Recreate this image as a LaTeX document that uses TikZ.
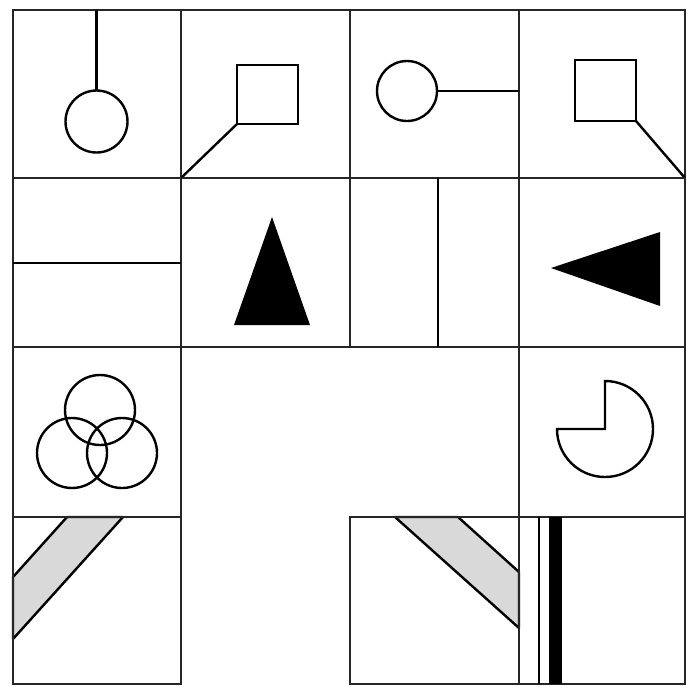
\documentclass[tikz,border=0pt]{standalone}
\usepackage{tikz}
\usetikzlibrary{positioning}
\definecolor{inkblack}{RGB}{0, 0, 0}
\definecolor{bandgray}{RGB}{217, 217, 217}

\begin{document}
\begin{tikzpicture}[
    x=1pt, y=-1pt,
    cell/.style={draw=inkblack!85, line width=2.6pt},
    figline/.style={draw=inkblack, line width=2.4pt},
    solidfig/.style={fill=inkblack},
    band/.style={fill=bandgray, draw=inkblack, line width=2.4pt, line join=round}
]
    \useasboundingbox (0,0) rectangle (687,686);

    % row 1
    \draw[cell] (13,10) rectangle (181,178);
    \draw[cell] (181,10) rectangle (350,178);
    \draw[cell] (350,10) rectangle (519,178);
    \draw[cell] (519,10) rectangle (685,178);
    \draw[figline] (96.5,10) -- (96.5,90.5);
    \draw[figline] (96.5,121.5) circle[radius=31];
    \draw[figline] (237,65) rectangle (298,124);
    \draw[figline] (237,124) -- (181,178);
    \draw[figline] (407,91) circle[radius=30];
    \draw[figline] (437,91) -- (519,91);
    \draw[figline] (575,60) rectangle (636,121);
    \draw[figline] (636,121) -- (685,178);

    % row 2
    \draw[cell] (13,178) rectangle (181,347);
    \draw[cell] (181,178) rectangle (350,347);
    \draw[cell] (350,178) rectangle (519,347);
    \draw[cell] (519,178) rectangle (685,347);
    \draw[figline] (13,263) -- (181,263);
    \fill[solidfig] (272,217) -- (310,325) -- (234,325) -- cycle;
    \draw[figline] (438,178) -- (438,347);
    \fill[solidfig] (551,268) -- (660,232) -- (660,306) -- cycle;

    % row 3
    \draw[cell] (13,347) rectangle (181,517);
    \draw[cell] (519,347) rectangle (685,517);
    \draw[figline] (100,410) circle[radius=35];
    \draw[figline] (72,453) circle[radius=35];
    \draw[figline] (122,453) circle[radius=35];
    \draw[figline] (605,429) -- (557,429) arc[start angle=180, end angle=-90, radius=48] -- cycle;

    % row 4
    \fill[band] (67,517) -- (123,517) -- (13,639) -- (13,577) -- cycle;
    \draw[cell] (13,517) rectangle (181,684);
    \fill[band] (395,517) -- (458,517) -- (519,572) -- (519,628) -- cycle;
    \draw[cell] (350,517) rectangle (519,684);
    \draw[cell] (519,517) rectangle (685,684);
    \draw[figline] (539,517) -- (539,684);
    \fill[solidfig] (549,517) rectangle (562,684);
\end{tikzpicture}
\end{document}
